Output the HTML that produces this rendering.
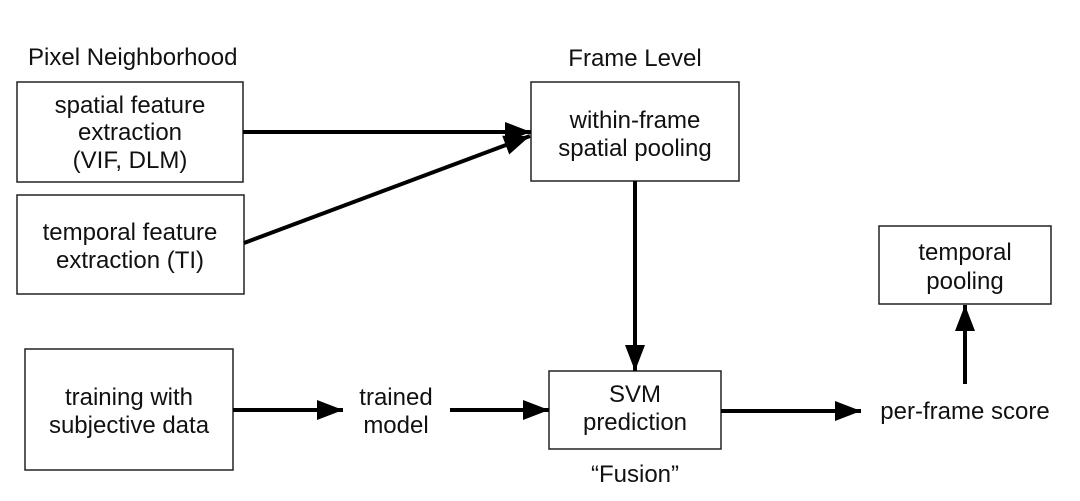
<!DOCTYPE html>
<html><head><style>
body{margin:0;background:#fff}
svg text{font-family:"Liberation Sans",Arial,sans-serif;font-size:24px;fill:#111}
</style></head><body>
<svg width="1080" height="496" viewBox="0 0 1080 496" xmlns="http://www.w3.org/2000/svg">
<defs>
<marker id="b" markerWidth="26" markerHeight="20" refX="26" refY="10" orient="auto" markerUnits="userSpaceOnUse"><path d="M0,0 L26,10 L0,20 z" fill="#000"/></marker></defs>
<g fill="none" stroke="#222" stroke-width="1.5">
<rect x="17" y="82" width="226" height="100"/>
<rect x="17" y="195" width="227" height="99"/>
<rect x="531" y="82" width="208" height="99"/>
<rect x="25" y="349" width="208" height="121"/>
<rect x="549" y="371" width="172" height="78"/>
<rect x="879" y="226" width="172" height="78"/>
</g>
<g stroke="#000" stroke-width="4" fill="none">
<line x1="243" y1="132" x2="531" y2="132" marker-end="url(#b)"/>
<line x1="244" y1="243" x2="530" y2="136" marker-end="url(#b)"/>
<line x1="635" y1="181" x2="635" y2="371" marker-end="url(#b)"/>
<line x1="233" y1="410" x2="343" y2="410" marker-end="url(#b)"/>
<line x1="450" y1="410" x2="549" y2="410" marker-end="url(#b)"/>
<line x1="721" y1="411" x2="861" y2="411" marker-end="url(#b)"/>
<line x1="965" y1="384" x2="965" y2="305" marker-end="url(#b)"/>
</g>
<g text-anchor="middle">
<text x="130" y="113">spatial feature</text>
<text x="130" y="140">extraction</text>
<text x="130" y="168">(VIF, DLM)</text>
<text x="130" y="240">temporal feature</text>
<text x="130" y="268">extraction (TI)</text>
<text x="635" y="128">within-frame</text>
<text x="635" y="156">spatial pooling</text>
<text x="129" y="405">training with</text>
<text x="129" y="433">subjective data</text>
<text x="396" y="405">trained</text>
<text x="396" y="433">model</text>
<text x="635" y="402">SVM</text>
<text x="635" y="430">prediction</text>
<text x="635" y="482">“Fusion”</text>
<text x="965" y="419">per-frame score</text>
<text x="965" y="260">temporal</text>
<text x="965" y="289">pooling</text>
<text x="635" y="66">Frame Level</text>
</g>
<text x="28" y="65">Pixel Neighborhood</text>
</svg>
</body></html>
